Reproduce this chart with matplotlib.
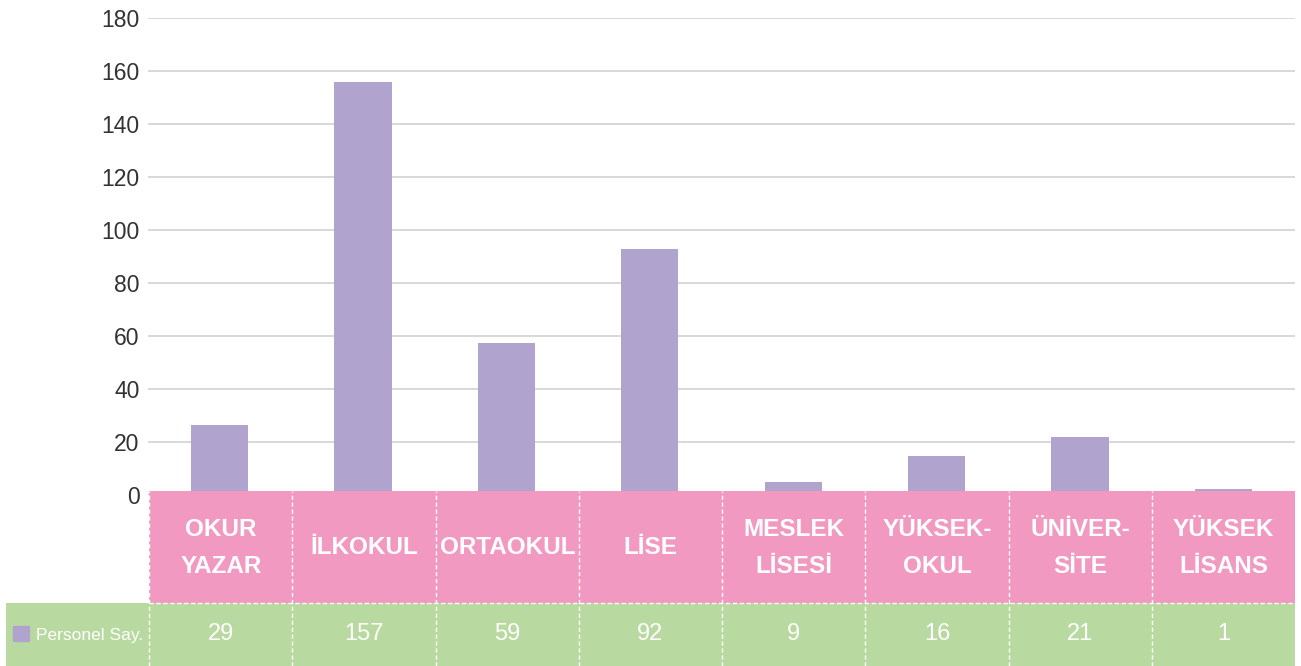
import matplotlib.pyplot as plt
from matplotlib.patches import Rectangle, Patch

# data
categories = ['OKUR\nYAZAR', 'İLKOKUL', 'ORTAOKUL', 'LİSE', 'MESLEK\nLİSESİ',
              'YÜKSEK-\nOKUL', 'ÜNİVER-\nSİTE', 'YÜKSEK\nLİSANS']
bar_heights = [26.4, 156, 57.4, 92.9, 4.9, 14.7, 21.9, 2.2]
table_values = [29, 157, 59, 92, 9, 16, 21, 1]
series_name = 'Personel Say.'
y_ticks = [0, 20, 40, 60, 80, 100, 120, 140, 160, 180]

purple = '#b0a4cf'
pink = '#f299c1'
green = '#b8daa0'

plt.rcParams['font.family'] = ['Liberation Sans', 'DejaVu Sans']

W, H = 1301, 666
fig = plt.figure(figsize=(W / 100, H / 100), dpi=100)

# main bar axes (pixel box: x 148..1295, y 18..495)
ax = fig.add_axes([148 / W, (H - 495) / H, (1295 - 148) / W, (495 - 18) / H])
x = list(range(len(categories)))
ax.bar(x, bar_heights, width=0.4, color=purple, zorder=2)
ax.set_xlim(-0.5, len(categories) - 0.5)
ax.set_ylim(0, 180)
ax.set_yticks(y_ticks)
ax.set_xticks([])
ax.grid(axis='y', color='#d2d2d2', linewidth=1.2, zorder=0)
for s in ax.spines.values():
    s.set_visible(False)
ax.tick_params(axis='y', length=0, pad=6, labelsize=16.5, labelcolor='#333333')

# data table under the chart (pixel box: x 6..1295, y 491..666)
tab = fig.add_axes([6 / W, 0, (1295 - 6) / W, 175 / H])
tab.set_xlim(-1.5, len(categories) - 0.5)
tab.set_ylim(0, 175)
tab.axis('off')
n = len(categories)
tab.add_patch(Rectangle((-0.5, 63), n, 112, color=pink, lw=0))
tab.add_patch(Rectangle((-1.5, 0), n + 1, 63, color=green, lw=0))
dash = dict(color='white', linewidth=1, linestyle=(0, (3, 2)))
for i in range(n):
    tab.plot([i - 0.5, i - 0.5], [0, 175], **dash)
tab.plot([-0.5, n - 0.5], [63, 63], **dash)

for i, (cat, val) in enumerate(zip(categories, table_values)):
    tab.text(i, 118, cat, ha='center', va='center', color='white',
             fontsize=17.5, fontweight='bold', linespacing=1.75)
    tab.text(i, 31.5, str(val), ha='center', va='center', color='white',
             fontsize=17)

leg = tab.legend(handles=[Patch(color=purple, label=series_name)],
                 loc='center left', bbox_to_anchor=(0.0, 31.5 / 175),
                 frameon=False, fontsize=12.5, labelcolor='white',
                 handlelength=0.92, handleheight=0.92, handletextpad=0.4,
                 borderaxespad=0.0, borderpad=0.4)

fig.savefig('out.png', dpi=100)
